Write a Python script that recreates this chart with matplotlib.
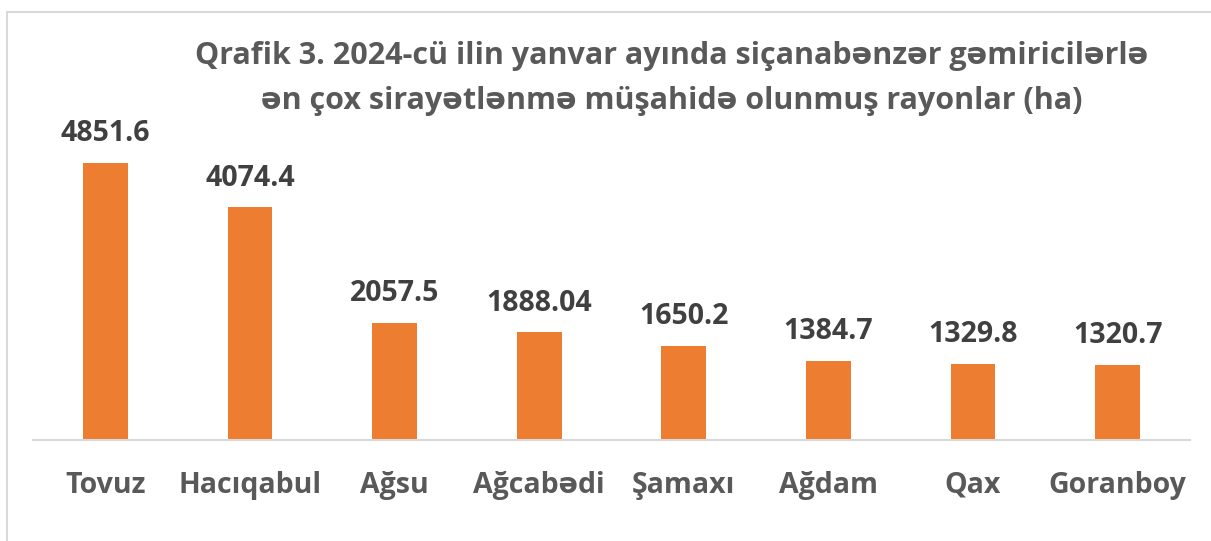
import matplotlib.pyplot as plt
from matplotlib.patches import Rectangle

plt.rcParams['font.family'] = ['Open Sans', 'DejaVu Sans']

rayonlar = ['Tovuz', 'Hacıqabul', 'Ağsu', 'Ağcabədi', 'Şamaxı', 'Ağdam', 'Qax', 'Goranboy']
sahe = [4851.6, 4074.4, 2057.5, 1888.04, 1650.2, 1384.7, 1329.8, 1320.7]
etiketler = ['4851.6', '4074.4', '2057.5', '1888.04', '1650.2', '1384.7', '1329.8', '1320.7']

basliq = ['Qrafik 3. 2024-cü ilin yanvar ayında siçanabənzər gəmiricilərlə',
          'ən çox sirayətlənmə müşahidə olunmuş rayonlar (ha)']

fig = plt.figure(figsize=(12.11, 5.41), dpi=100)
ax = fig.add_axes([33 / 1211, 1 - 440 / 541, 1157 / 1211, 314 / 541])

x = range(len(rayonlar))
ax.bar(x, sahe, width=0.31, color='#ED7D31')
ax.set_xlim(-0.5, len(rayonlar) - 0.5)
ax.set_ylim(0, 5500)

for i, v in enumerate(sahe):
    ax.annotate(etiketler[i], (i, v), xytext=(0, 21), textcoords='offset points',
                ha='center', va='center', fontsize=20.5, fontweight='bold', color='#404040')

ax.set_xticks(list(x))
ax.set_xticklabels(rayonlar, fontsize=20.5, fontweight='bold', color='#595959')
ax.tick_params(axis='x', length=0, pad=22)
ax.set_yticks([])
for s in ['top', 'right', 'left']:
    ax.spines[s].set_visible(False)
ax.spines['bottom'].set_color('#D9D9D9')
ax.spines['bottom'].set_linewidth(1.5)

# title, two lines
for satir, yy in zip(basliq, [56, 101]):
    fig.text(672 / 1211, 1 - yy / 541, satir, ha='center', va='center', fontsize=22,
             fontweight='bold', color='#595959')

# chart border (left and top visible)
fig.add_artist(Rectangle((7 / 1211, -0.05), 1.2, 1 - 12 / 541 + 0.05, transform=fig.transFigure,
                         fill=False, edgecolor='#D9D9D9', linewidth=1.5))

fig.savefig('out.png', dpi=100)
